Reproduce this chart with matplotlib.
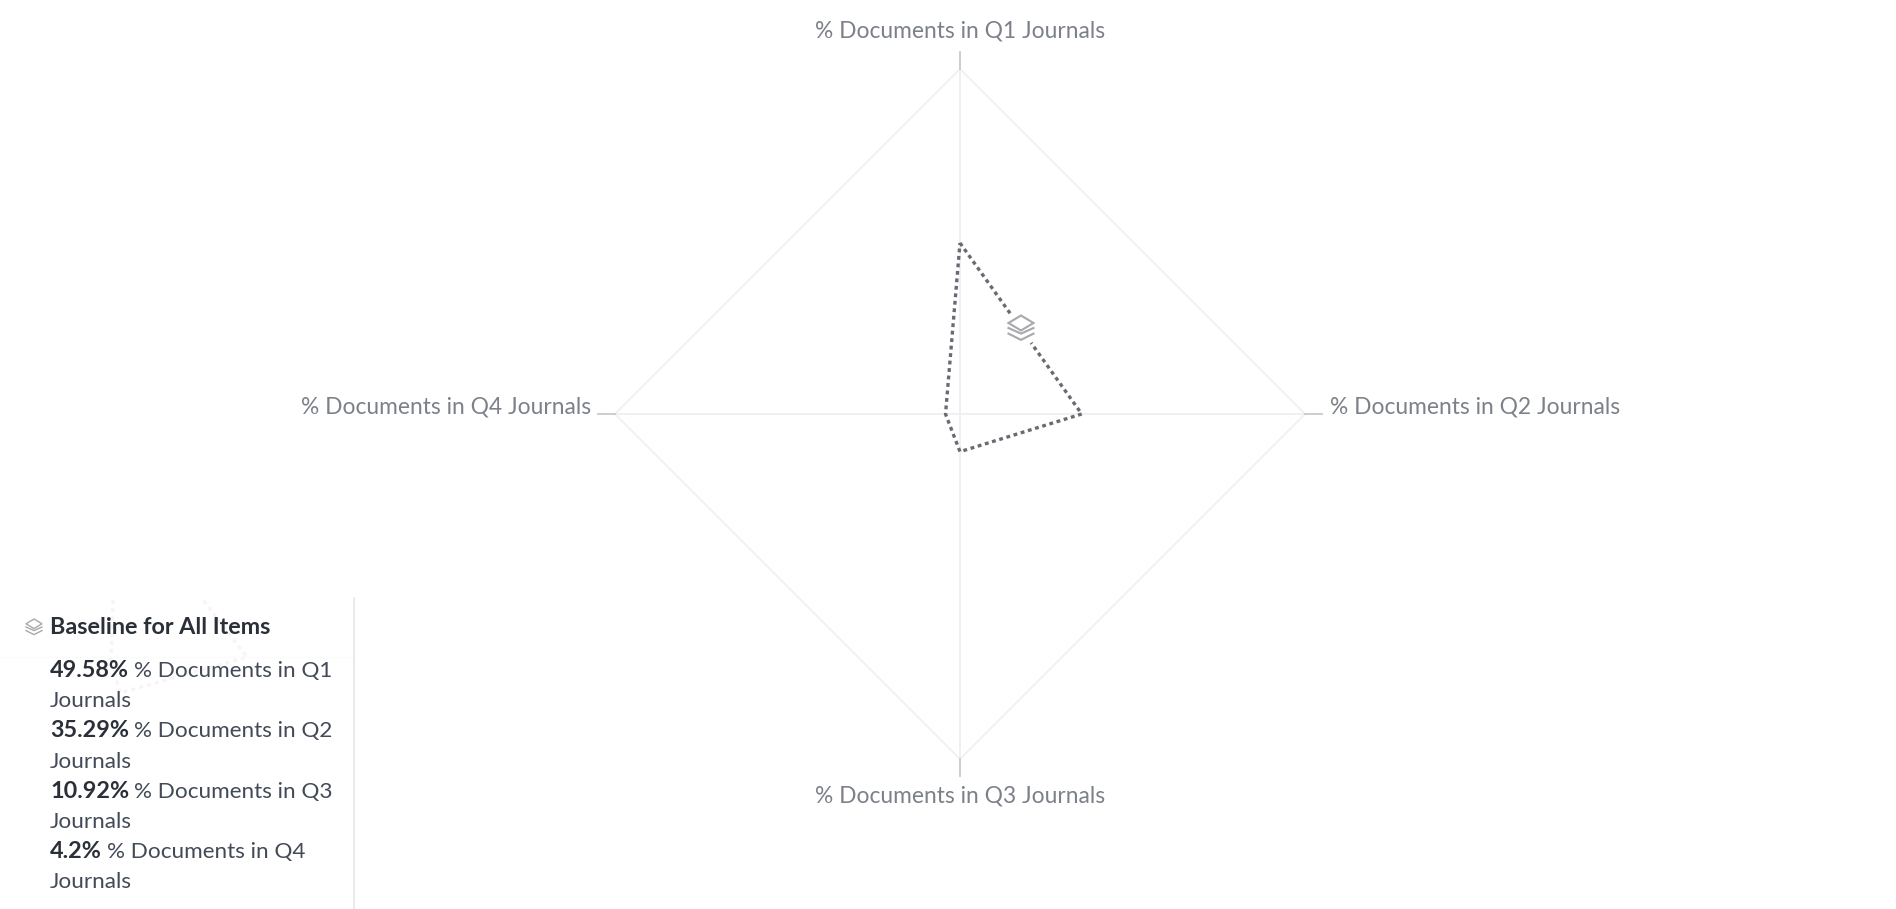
import numpy as np
import matplotlib.pyplot as plt
from matplotlib.patches import Polygon

# Data
axis_labels = ["% Documents in Q1 Journals", "% Documents in Q2 Journals",
               "% Documents in Q3 Journals", "% Documents in Q4 Journals"]
baseline_values = [49.58, 35.29, 10.92, 4.2]
value_labels = ["49.58%", "35.29%", "10.92%", "4.2%"]
legend_names = ["% Documents in Q1", "% Documents in Q2",
                "% Documents in Q3", "% Documents in Q4"]
legend_title = "Baseline for All Items"
axis_max = 100

W, H = 1896, 909
plt.rcParams["font.family"] = ["Lato", "DejaVu Sans"]
fig = plt.figure(figsize=(W / 100, H / 100), dpi=100, facecolor="white")

# Radar, centre at (960, 414), radius 345 px
cx, cy, rad = 960, 414, 345
ax = fig.add_axes([(cx - rad) / W, (H - cy - rad) / H, 2 * rad / W, 2 * rad / H],
                  projection="polar")
ax.set_theta_zero_location("N")
ax.set_theta_direction(-1)
ax.set_ylim(0, axis_max)
ax.axis("off")

theta = np.arange(len(axis_labels)) * np.pi / 2
closed_theta = np.append(theta, theta[0])
grid_col = "#efeff1"
ax.plot(closed_theta, [axis_max] * 5, color=grid_col, lw=1.2, clip_on=False)
for t in theta:
    ax.plot([t, t], [0, axis_max], color=grid_col, lw=1.3, clip_on=False)
    # short ticks outside the web
    ax.plot([t, t], [axis_max, axis_max * 1.05], color="#c9c9ce", lw=1.3, clip_on=False)

ax.plot(closed_theta, baseline_values + baseline_values[:1], color="#6a6a72", lw=2.4,
        linestyle=(0, (1.15, 1.1)), clip_on=False)

# Overlay in pixel coordinates for labels, icons and the legend panel
ov = fig.add_axes([0, 0, 1, 1], facecolor="none")
ov.set_xlim(0, W)
ov.set_ylim(H, 0)
ov.axis("off")

label_col = "#7c8089"
label_size = 16.4
ov.text(960, 31, axis_labels[0], ha="center", va="center", color=label_col, fontsize=label_size)
ov.text(1330, 407, axis_labels[1], ha="left", va="center", color=label_col, fontsize=label_size)
ov.text(960, 796, axis_labels[2], ha="center", va="center", color=label_col, fontsize=label_size)
ov.text(591, 407, axis_labels[3], ha="right", va="center", color=label_col, fontsize=label_size)


def stack_icon(x, y, s, lw, col="#a8a8ad"):
    # small layered-diamonds icon, top diamond and two chevrons under it
    y0 = y - s
    ov.add_patch(Polygon([(x - s, y0 + 0.6 * s), (x, y0), (x + s, y0 + 0.6 * s), (x, y0 + 1.2 * s)],
                         closed=True, fc="white", ec=col, lw=lw))
    for side, tip in ((1.0, 1.45), (1.45, 1.95)):
        ov.plot([x - s, x, x + s], [y0 + side * s, y0 + tip * s, y0 + side * s], color=col, lw=lw)


ov.add_patch(plt.Circle((1021, 328), 18, fc="white", ec="none"))
stack_icon(1021, 328, 12.5, 1.5)
stack_icon(34, 627, 8, 1.0)

# Faint ghost behind the legend panel
ghost = "#f8f4f4"
ov.plot([113, 111, 120, 247, 203], [600, 660, 693, 657, 600], color=ghost, lw=2.3,
        linestyle=(0, (1.3, 1.25)))
ov.plot([0, 354], [657, 657], color="#fbfbfb", lw=1)
ov.plot([354, 354], [598, 909], color="#e8e8ea", lw=1.3)

# Legend text
text_col = "#434a57"
leg_size = 16.2
bold_size = 16.8
ov.text(50, 634, legend_title, color="#2b2f38", fontsize=bold_size, fontweight="bold",
        va="baseline", ha="left")

renderer = fig.canvas.get_renderer()
y_line = 677
step = 30.2
for val, name in zip(value_labels, legend_names):
    t = ov.text(50, y_line, val, color="#2b2f38", fontsize=bold_size, fontweight="bold", va="baseline")
    x_end = t.get_window_extent(renderer).x1
    ov.text(x_end + 5, y_line, name, color=text_col, fontsize=leg_size, va="baseline")
    ov.text(50, y_line + step, "Journals", color=text_col, fontsize=leg_size, va="baseline")
    y_line += 2 * step

fig.savefig("out.png", dpi=100)
